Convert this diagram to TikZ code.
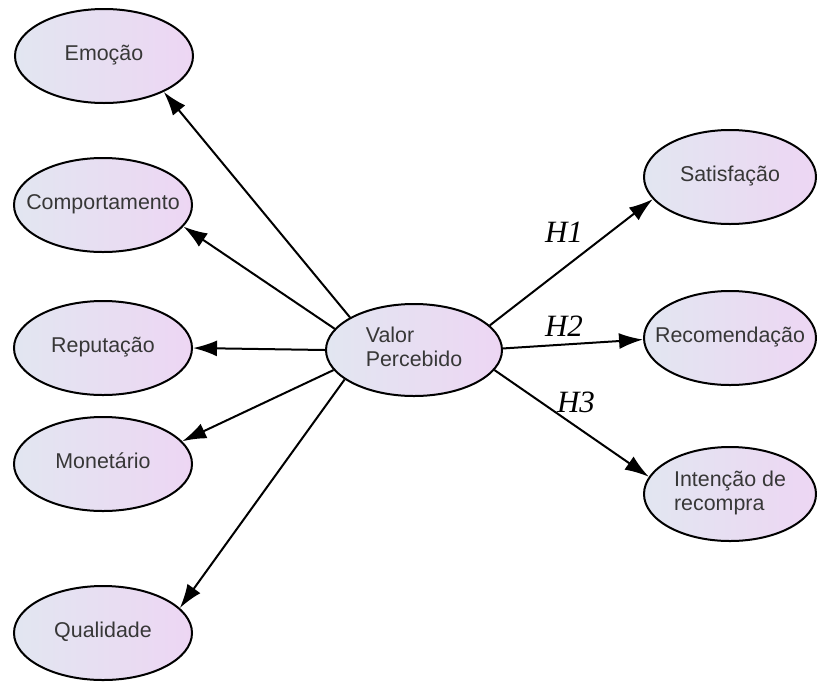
\documentclass[tikz,border=0pt]{standalone}
\usepackage{fontspec}
\setmainfont{Liberation Sans}
\newfontfamily\hypfont{Liberation Serif}
\usetikzlibrary{arrows.meta,shapes.geometric}

\definecolor{ovalleft}{RGB}{226,230,241}
\definecolor{ovalright}{RGB}{237,214,243}
\definecolor{ovaltext}{RGB}{55,55,55}

\tikzset{
  oval/.style={ellipse, draw, line width=1pt, left color=ovalleft, right color=ovalright,
    minimum width=89pt, minimum height=47pt, inner sep=0pt, text=ovaltext,
    font=\fontsize{10.7}{11.9}\selectfont},
  hyp/.style={font=\hypfont\itshape\fontsize{15.5}{15.5}\selectfont, inner sep=0pt},
  link/.style={line width=1pt, -{Latex[length=12pt, width=8pt]}}
}
\newcommand{\ovallabel}[1]{\makebox[0pt]{\begin{tabular}{@{}l@{}}#1\end{tabular}}}

\begin{document}
\begin{tikzpicture}[x=0.5pt, y=-0.5pt]
      \useasboundingbox (0,0) rectangle (817,686);
      % central construct
      \node[oval, minimum width=88pt, minimum height=46pt] (vp) at (414,350) {\ovallabel{Valor\\Percebido}};
      % dimensions
      \node[oval] (emo)  at (104,56)  {\raisebox{-3pt}{\ovallabel{Emoção}}};
      \node[oval] (comp) at (103,205) {\ovallabel{Comportamento}};
      \node[oval] (rep)  at (103,348) {\ovallabel{Reputação}};
      \node[oval] (mon)  at (103,464) {\ovallabel{Monetário}};
      \node[oval] (qual) at (103,633) {\ovallabel{Qualidade}};
      % outcomes
      \node[oval, minimum width=86pt] (sat) at (730,177) {\ovallabel{Satisfação}};
      \node[oval, minimum width=86pt] (rec) at (730,338) {\ovallabel{Recomendação}};
      \node[oval, minimum width=86pt] (int) at (730,494) {\ovallabel{Intenção de\\recompra}};
      % hypotheses
      \node[hyp] (h1) at (564,232) {H1};
      \node[hyp] (h2) at (564,326) {H2};
      \node[hyp] (h3) at (576,402) {H3};

      \draw[link] (vp.153) -- (emo.-31);
      \draw[link] (vp.165) -- (comp.-15);
      \draw[link] (vp.180) -- (rep.0);
      \draw[link] (vp.194) -- (mon.16);
      \draw[link] (vp.203) -- (qual.18);

      \draw[link] (vp.18) -- (sat.196);
      \draw[link] (vp.1) -- (rec.181);
      \draw[link] (vp.-14) -- (int.168);
\end{tikzpicture}
\end{document}
